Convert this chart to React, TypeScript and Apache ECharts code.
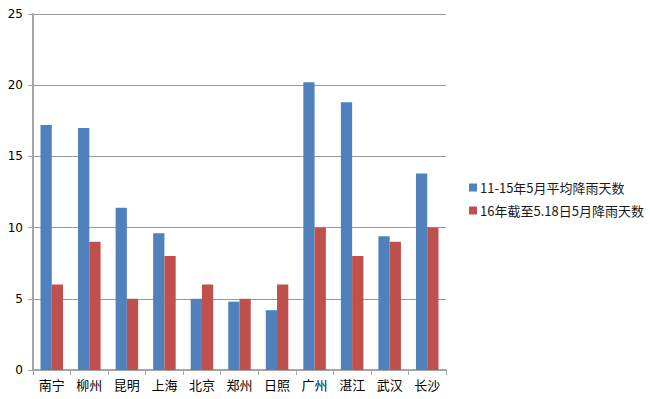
import React, { useEffect, useRef } from "react";
import * as echarts from "echarts";

const categories = ["南宁", "柳州", "昆明", "上海", "北京", "郑州", "日照", "广州", "湛江", "武汉", "长沙"];
const avgName = "11-15年5月平均降雨天数";
const curName = "16年截至5.18日5月降雨天数";
const avgDays = [17.2, 17.0, 11.4, 9.6, 5.0, 4.8, 4.2, 20.2, 18.8, 9.4, 13.8];
const curDays = [6, 9, 5, 8, 6, 5, 6, 10, 8, 9, 10];

export default function App() {
  const ref = useRef<HTMLDivElement>(null);
  useEffect(() => {
    const chart = echarts.init(ref.current!, null, { renderer: "svg" });
    chart.setOption({
      animation: false,
      backgroundColor: "#ffffff",
      grid: { left: 33, right: 204, top: 14, bottom: 29, containLabel: false },
      legend: {
        orient: "vertical",
        left: 464,
        top: 176,
        itemWidth: 8,
        itemHeight: 8,
        itemGap: 10,
        icon: "rect",
        textStyle: { fontSize: 13, color: "#1a1a1a", fontFamily: "Noto Sans CJK SC", padding: [0, 0, 0, -2] },
        data: [avgName, curName],
      },
      xAxis: {
        type: "category",
        data: categories,
        axisLine: { lineStyle: { color: "#a6a6a6", width: 2 } },
        axisTick: { show: true, alignWithLabel: false, length: 5, lineStyle: { color: "#a6a6a6", width: 1 } },
        axisLabel: { color: "#000", fontSize: 13, margin: 8, fontFamily: "Noto Sans CJK SC" },
      },
      yAxis: {
        type: "value",
        min: 0,
        max: 25,
        interval: 5,
        axisLine: { show: true, lineStyle: { color: "#a6a6a6", width: 2 } },
        axisTick: { show: true, length: 5, lineStyle: { color: "#a6a6a6" } },
        axisLabel: { color: "#000", fontSize: 12, margin: 10, fontFamily: "DejaVu Sans" },
        splitLine: { show: true, lineStyle: { color: "#999999", width: 1 } },
      },
      series: [
        {
          name: avgName,
          type: "bar",
          data: avgDays,
          barGap: "0%",
          barCategoryGap: "40%",
          itemStyle: { color: "#4f81bd" },
        },
        {
          name: curName,
          type: "bar",
          data: curDays,
          barGap: "0%",
          barCategoryGap: "40%",
          itemStyle: { color: "#c0504d" },
        },
      ],
    });
    return () => chart.dispose();
  }, []);
  return <div ref={ref} style={{ width: 650, height: 399, position: "absolute", left: 0, top: 0 }} />;
}
